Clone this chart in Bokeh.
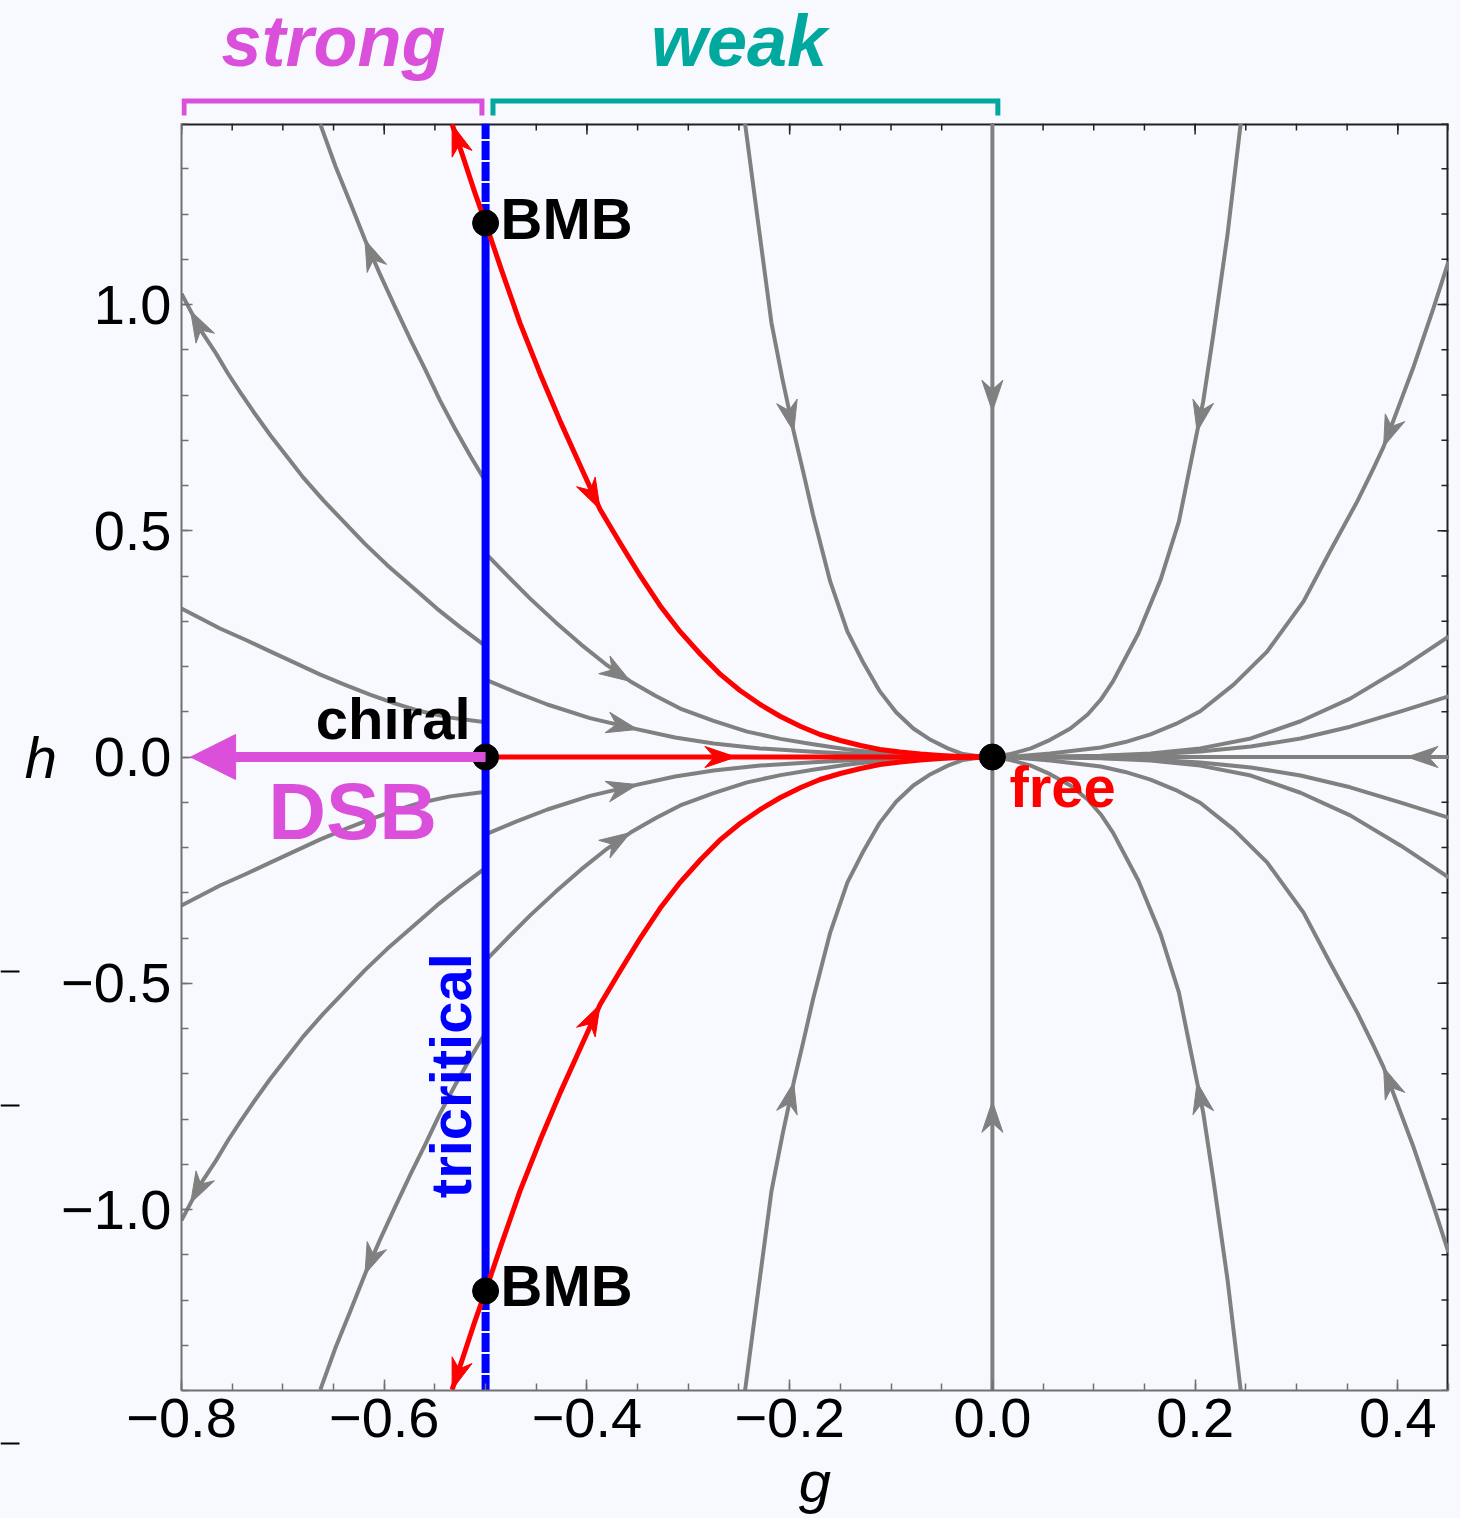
import numpy as np
from bokeh.plotting import figure
from bokeh.layouts import row, column
from bokeh.models import Range1d, FixedTicker, Arrow, NormalHead
from bokeh.core.properties import value
from bokeh.embed import file_html
from bokeh.resources import INLINE

# ---------------- styles ----------------
BG = "#F7F9FE"
GRAY = "#808080"
RED = "#FF0000"
BLUE = "#0000FF"
MAGENTA = "#DA50DA"
TEAL = "#00A89E"
FONT = "Liberation Sans"

# ---------------- axes data ----------------
g_range = (-0.8, 0.45)
h_range = (-1.4, 1.4)
x_ticks = [-0.8, -0.6, -0.4, -0.2, 0.0, 0.2, 0.4]
x_tick_labels = ["\u22120.8", "\u22120.6", "\u22120.4", "\u22120.2", "0.0", "0.2", "0.4"]
y_ticks = [-1.0, -0.5, 0.0, 0.5, 1.0]
y_tick_labels = ["\u22121.0", "\u22120.5", "0.0", "0.5", "1.0"]

# ---------------- fixed points ----------------
fp_names = ["chiral", "free", "BMB", "BMB"]
fp_g = [-0.5, 0.0, -0.5, -0.5]
fp_h = [0.0, 0.0, 1.18, -1.18]
tricritical_g = -0.5
bmb_h = 1.18

# ---------------- regimes ----------------
regime_names = ["strong", "weak"]
regime_g0 = [-0.8, -0.5]
regime_g1 = [-0.5, 0.0]
regime_colors = [MAGENTA, TEAL]

# DSB arrow (from chiral point toward strong coupling)
dsb_g = [-0.5, -0.791]
dsb_h = [0.0, 0.0]

# ---------------- flow lines (points ordered along the flow) ----------------
flowA_g = [-0.500, -0.515, -0.530, -0.545, -0.559, -0.574, -0.589, -0.604, -0.619, -0.633, -0.648, -0.663]
flowA_up_h = [0.609, 0.665, 0.725, 0.788, 0.854, 0.922, 0.993, 1.066, 1.143, 1.222, 1.305, 1.398]
flowA_dn_h = [-0.609, -0.665, -0.725, -0.788, -0.854, -0.922, -0.993, -1.066, -1.143, -1.222, -1.305, -1.398]

flowB_g = [-0.500, -0.525, -0.548, -0.574, -0.597, -0.619, -0.640, -0.660, -0.680, -0.696, -0.712,
           -0.729, -0.742, -0.754, -0.766, -0.779, -0.791, -0.800]
flowB_up_h = [0.245, 0.287, 0.328, 0.379, 0.424, 0.471, 0.520, 0.567, 0.618, 0.664, 0.710,
              0.763, 0.806, 0.847, 0.892, 0.936, 0.986, 1.024]
flowB_dn_h = [-0.245, -0.287, -0.328, -0.379, -0.424, -0.471, -0.520, -0.567, -0.618, -0.664, -0.710,
              -0.763, -0.806, -0.847, -0.892, -0.936, -0.986, -1.024]

flowC_g = [-0.500, -0.535, -0.564, -0.589, -0.614, -0.638, -0.663, -0.688, -0.712, -0.737, -0.762, -0.781, -0.800]
flowC_up_h = [0.077, 0.087, 0.101, 0.118, 0.138, 0.159, 0.182, 0.208, 0.233, 0.259, 0.284, 0.306, 0.328]
flowC_dn_h = [-0.077, -0.087, -0.101, -0.118, -0.138, -0.159, -0.182, -0.208, -0.233, -0.259, -0.284, -0.306, -0.328]

flowD_g = [-0.500, -0.480, -0.456, -0.431, -0.406, -0.382, -0.357, -0.332, -0.308, -0.275,
           -0.242, -0.209, -0.177, -0.144, -0.111, -0.081, -0.051, -0.022, 0.0]
flowD_up_h = [0.450, 0.404, 0.350, 0.298, 0.249, 0.206, 0.167, 0.135, 0.107, 0.080,
              0.056, 0.040, 0.028, 0.017, 0.009, 0.0044, 0.0015, 0.0004, 0.0]
flowD_dn_h = [-0.450, -0.404, -0.350, -0.298, -0.249, -0.206, -0.167, -0.135, -0.107, -0.080,
              -0.056, -0.040, -0.028, -0.017, -0.009, -0.0044, -0.0015, -0.0004, 0.0]

flowE_g = [-0.500, -0.470, -0.439, -0.397, -0.350, -0.313, -0.275, -0.229, -0.177, -0.130, -0.091, -0.046, 0.0]
flowE_up_h = [0.171, 0.143, 0.116, 0.086, 0.061, 0.043, 0.030, 0.019, 0.0115, 0.0062, 0.0029, 0.0007, 0.0]
flowE_dn_h = [-0.171, -0.143, -0.116, -0.086, -0.061, -0.043, -0.030, -0.019, -0.0115, -0.0062, -0.0029, -0.0007, 0.0]

flowF_g = [-0.244, -0.231, -0.218, -0.207, -0.196, -0.186, -0.177, -0.160, -0.143, -0.127, -0.111,
           -0.095, -0.078, -0.061, -0.044, -0.029, -0.012, 0.0]
flowF_up_h = [1.40, 1.179, 0.960, 0.834, 0.719, 0.624, 0.536, 0.388, 0.277, 0.207, 0.145,
              0.099, 0.063, 0.038, 0.019, 0.0066, 0.0011, 0.0]
flowF_dn_h = [-1.40, -1.179, -0.960, -0.834, -0.719, -0.624, -0.536, -0.388, -0.277, -0.207, -0.145,
              -0.099, -0.063, -0.038, -0.019, -0.0066, -0.0011, 0.0]

flowG_g = [0.0, 0.0, 0.0]
flowG_up_h = [1.40, 0.764, 0.0]
flowG_dn_h = [-1.40, -0.761, 0.0]

flowH_g = [0.245, 0.232, 0.218, 0.208, 0.202, 0.195, 0.184, 0.166, 0.144, 0.119, 0.107, 0.094,
           0.077, 0.057, 0.038, 0.018, 0.0]
flowH_up_h = [1.40, 1.155, 0.934, 0.786, 0.719, 0.642, 0.520, 0.392, 0.273, 0.167, 0.127, 0.094,
              0.063, 0.038, 0.019, 0.0066, 0.0]
flowH_dn_h = [-1.40, -1.155, -0.934, -0.786, -0.719, -0.642, -0.520, -0.392, -0.273, -0.167, -0.127, -0.094,
              -0.063, -0.038, -0.019, -0.0066, 0.0]

flowI_g = [0.450, 0.435, 0.415, 0.386, 0.376, 0.360, 0.333, 0.307, 0.271, 0.238, 0.205, 0.181,
           0.156, 0.131, 0.107, 0.057, 0.028, 0.0]
flowI_up_h = [1.095, 0.991, 0.859, 0.686, 0.638, 0.565, 0.454, 0.344, 0.233, 0.160, 0.101, 0.073,
              0.050, 0.033, 0.021, 0.0077, 0.0022, 0.0]
flowI_dn_h = [-1.095, -0.991, -0.859, -0.686, -0.638, -0.565, -0.454, -0.344, -0.233, -0.160, -0.101, -0.073,
              -0.050, -0.033, -0.021, -0.0077, -0.0022, 0.0]

flowJ_g = [0.450, 0.403, 0.353, 0.304, 0.255, 0.205, 0.156, 0.107, 0.057, 0.0]
flowJ_up_h = [0.266, 0.196, 0.129, 0.079, 0.041, 0.019, 0.0077, 0.0027, 0.0007, 0.0]
flowJ_dn_h = [-0.266, -0.196, -0.129, -0.079, -0.041, -0.019, -0.0077, -0.0027, -0.0007, 0.0]

flowK_g = [0.450, 0.403, 0.353, 0.304, 0.255, 0.205, 0.156, 0.107, 0.057, 0.0]
flowK_up_h = [0.134, 0.101, 0.067, 0.041, 0.023, 0.012, 0.0055, 0.0022, 0.0007, 0.0]
flowK_dn_h = [-0.134, -0.101, -0.067, -0.041, -0.023, -0.012, -0.0055, -0.0022, -0.0007, 0.0]

flowL_g = [0.45, 0.409, 0.0]
flowL_h = [0.0, 0.0, 0.0]

# red separatrices
sepBMB_g = [-0.500, -0.485, -0.466, -0.446, -0.426, -0.406, -0.387, -0.367, -0.347, -0.328, -0.308,
            -0.288, -0.268, -0.249, -0.229, -0.209, -0.189, -0.170, -0.150, -0.130, -0.111,
            -0.091, -0.071, -0.051, -0.032, 0.0]
sepBMB_up_h = [1.18, 1.081, 0.959, 0.846, 0.740, 0.641, 0.547, 0.472, 0.399, 0.335, 0.277,
               0.227, 0.182, 0.147, 0.116, 0.0895, 0.0674, 0.0497, 0.0365, 0.0254, 0.0166,
               0.011, 0.0066, 0.0033, 0.0011, 0.0]
sepBMB_dn_h = [-1.18, -1.081, -0.959, -0.846, -0.740, -0.641, -0.547, -0.472, -0.399, -0.335, -0.277,
               -0.227, -0.182, -0.147, -0.116, -0.0895, -0.0674, -0.0497, -0.0365, -0.0254, -0.0166,
               -0.011, -0.0066, -0.0033, -0.0011, 0.0]

sepOut_g = [-0.500, -0.511, -0.522, -0.533]
sepOut_up_h = [1.18, 1.250, 1.325, 1.398]
sepOut_dn_h = [-1.18, -1.250, -1.325, -1.398]

sepChiral_g = [-0.5, -0.253, 0.0]
sepChiral_h = [0.0, 0.0, 0.0]

# stray tick marks at the far left edge of the picture
stray_h = [-0.474, -0.770, -1.517]

# (g, h, arrow indices)
gray_curves = [
    (flowA_g, flowA_up_h, [8]), (flowA_g, flowA_dn_h, [8]),
    (flowB_g, flowB_up_h, [16]), (flowB_g, flowB_dn_h, [16]),
    (flowC_g, flowC_up_h, []), (flowC_g, flowC_dn_h, []),
    (flowD_g, flowD_up_h, [6]), (flowD_g, flowD_dn_h, [6]),
    (flowE_g, flowE_up_h, [4]), (flowE_g, flowE_dn_h, [4]),
    (flowF_g, flowF_up_h, [4]), (flowF_g, flowF_dn_h, [4]),
    (flowG_g, flowG_up_h, [1]), (flowG_g, flowG_dn_h, [1]),
    (flowH_g, flowH_up_h, [4]), (flowH_g, flowH_dn_h, [4]),
    (flowI_g, flowI_up_h, [3]), (flowI_g, flowI_dn_h, [3]),
    (flowJ_g, flowJ_up_h, []), (flowJ_g, flowJ_dn_h, []),
    (flowK_g, flowK_up_h, []), (flowK_g, flowK_dn_h, []),
    (flowL_g, flowL_h, [1]),
]
red_curves = [
    (sepBMB_g, sepBMB_up_h, [6]), (sepBMB_g, sepBMB_dn_h, [6]),
    (sepOut_g, sepOut_up_h, [3]), (sepOut_g, sepOut_dn_h, [3]),
    (sepChiral_g, sepChiral_h, [1]),
]

# ---------------- geometry ----------------
FW = FH = 1267
SX = FW / (g_range[1] - g_range[0])      # px per unit of g
SY = FH / (h_range[1] - h_range[0])      # px per unit of h
TOP_H = 123                               # height of strip above the frame
STRIP_W = 20
LEFT = 181 - STRIP_W
h_top = h_range[1] + TOP_H / SY


def fig(**kw):
    f = figure(output_backend="svg", toolbar_location=None, background_fill_color=BG,
               border_fill_color=BG, outline_line_color=None, **kw)
    f.grid.visible = False
    return f


# ---------------- main plot ----------------
p = fig(frame_width=FW, frame_height=FH, x_range=Range1d(*g_range), y_range=Range1d(*h_range),
        min_border_left=LEFT, min_border_top=0, min_border_right=2, min_border_bottom=0)

x_minor = [round(v, 2) for v in np.arange(-0.8, 0.4501, 0.05)]
y_minor = [round(v, 2) for v in np.arange(-1.4, 1.4001, 0.1)]

for ax in (p.xaxis[0], p.yaxis[0]):
    ax.axis_line_color = "#707070"
    ax.axis_line_width = 2
    ax.major_tick_line_color = "#707070"
    ax.minor_tick_line_color = "#707070"
    ax.major_tick_line_width = 1.5
    ax.minor_tick_line_width = 1.5
    ax.major_tick_in = 11
    ax.major_tick_out = 0
    ax.minor_tick_in = 7
    ax.minor_tick_out = 0
    ax.major_label_text_font = FONT
    ax.major_label_text_font_size = "56px"
    ax.major_label_text_color = "black"
    ax.axis_label_text_font = FONT
    ax.axis_label_text_font_size = "58px"
    ax.axis_label_text_font_style = "italic"
    ax.axis_label_text_color = "black"

p.xaxis.ticker = FixedTicker(ticks=x_ticks, minor_ticks=x_minor)
p.yaxis.ticker = FixedTicker(ticks=y_ticks, minor_ticks=y_minor)
p.xaxis.major_label_overrides = dict(zip(x_ticks, x_tick_labels))
p.yaxis.major_label_overrides = dict(zip(y_ticks, y_tick_labels))
p.xaxis.major_label_standoff = 8
p.yaxis.major_label_standoff = 10
p.xaxis.axis_label = "g"
p.xaxis.axis_label_standoff = 9
p.yaxis.axis_label = "h"
p.yaxis.axis_label_standoff = 1
if "axis_label_orientation" in p.yaxis[0].properties():
    p.yaxis.axis_label_orientation = "horizontal"

# top and right frame edges with inward ticks
p.line([g_range[0], g_range[1]], [h_range[1], h_range[1]], line_color="#222222", line_width=4)
p.line([g_range[1], g_range[1]], [h_range[0], h_range[1]], line_color="#222222", line_width=4)
for ticks, L in ((x_ticks, 11), (x_minor, 7)):
    p.segment(x0=ticks, y0=[h_range[1]] * len(ticks), x1=ticks,
              y1=[h_range[1] - L / SY] * len(ticks), line_color="#222222", line_width=1.5)
for ticks, L in ((y_ticks, 11), (y_minor, 7)):
    p.segment(x0=[g_range[1]] * len(ticks), y0=ticks, x1=[g_range[1] - L / SX] * len(ticks),
              y1=ticks, line_color="#222222", line_width=1.5)

# ---------------- flow lines ----------------
p.multi_line(xs=[c[0] for c in gray_curves], ys=[c[1] for c in gray_curves],
             line_color=GRAY, line_width=4, line_join="round")

# tricritical line: solid between the BMB points, dashed beyond
p.line([tricritical_g, tricritical_g], [-bmb_h, bmb_h], line_color=BLUE, line_width=8)
p.multi_line(xs=[[tricritical_g, tricritical_g], [tricritical_g, tricritical_g]],
             ys=[[bmb_h, h_range[1]], [-bmb_h, h_range[0]]],
             line_color=BLUE, line_width=8, line_dash="19 2")

p.multi_line(xs=[c[0] for c in red_curves], ys=[c[1] for c in red_curves],
             line_color=RED, line_width=5, line_join="round")


# ---------------- arrow heads ----------------
def head(gs, hs, i, L=31.0, W=10.5, notch=0.7):
    j0 = max(i - 1, 0)
    j1 = min(i + 1, len(gs) - 1)
    dx = (gs[j1] - gs[j0]) * SX
    dy = (hs[j1] - hs[j0]) * SY
    n = (dx * dx + dy * dy) ** 0.5
    ux, uy = dx / n, dy / n
    px, py = -uy, ux
    tx, ty = gs[i] * SX, hs[i] * SY
    pts = [(tx, ty),
           (tx - L * ux + W * px, ty - L * uy + W * py),
           (tx - notch * L * ux, ty - notch * L * uy),
           (tx - L * ux - W * px, ty - L * uy - W * py)]
    return [q[0] / SX for q in pts], [q[1] / SY for q in pts]


hx, hy, hc = [], [], []
for curves, col in ((gray_curves, GRAY), (red_curves, RED)):
    for gs, hs, idx in curves:
        for i in idx:
            a, b = head(gs, hs, i)
            hx.append(a)
            hy.append(b)
            hc.append(col)
p.patches(xs=hx, ys=hy, fill_color=hc, line_color=hc, line_width=1)

# DSB arrow
p.add_layout(Arrow(end=NormalHead(size=45, fill_color=MAGENTA, line_color=MAGENTA),
                   x_start=dsb_g[0], y_start=dsb_h[0], x_end=dsb_g[1], y_end=dsb_h[1],
                   line_color=MAGENTA, line_width=10))

# fixed points
p.scatter(fp_g, fp_h, size=26, fill_color="black", line_color="black")

# ---------------- texts ----------------
bold = dict(text_font=value(FONT), text_font_style="bold", text_baseline="middle")
p.text(x=[fp_g[2], fp_g[3]], y=[fp_h[2], fp_h[3]], text=[fp_names[2], fp_names[3]],
       text_font_size="58px", text_color="black", text_align="left",
       x_offset=15, y_offset=-5, **bold)
p.text(x=[fp_g[0]], y=[fp_h[0]], text=[fp_names[0]], text_font_size="58px",
       text_color="black", text_align="right", x_offset=-15, y_offset=-39, **bold)
p.text(x=[fp_g[1]], y=[fp_h[1]], text=[fp_names[1]], text_font_size="58px",
       text_color=RED, text_align="left", x_offset=17, y_offset=29, **bold)
p.text(x=[fp_g[0]], y=[fp_h[0]], text=["DSB"], text_font_size="80px",
       text_color=MAGENTA, text_align="center", x_offset=-133, y_offset=54, **bold)
p.text(x=[tricritical_g], y=[-0.975], text=["tricritical"], angle=np.pi / 2,
       text_font_size="58px", text_color=BLUE, text_align="left",
       x_offset=-35, **bold)

# ---------------- strip above the frame: regime brackets ----------------
top = fig(frame_width=FW, frame_height=TOP_H, x_range=p.x_range,
          y_range=Range1d(h_range[1], h_top), x_axis_type=None, y_axis_type=None,
          min_border=0, min_border_left=LEFT, min_border_right=2)
bracket_h, bracket_tick_h, regime_label_h = 1.4497, 1.4177, 1.583
pad_l = [0.0025, 0.0073]
pad_r = [-0.0036, 0.0054]
for name, g0, g1, col, pl, pr in zip(regime_names, regime_g0, regime_g1, regime_colors, pad_l, pad_r):
    a0, a1 = g0 + pl, g1 + pr
    top.line([a0, a0, a1, a1], [bracket_tick_h, bracket_h, bracket_h, bracket_tick_h],
             line_color=col, line_width=5, line_join="miter")
    top.text(x=[(g0 + g1) / 2], y=[regime_label_h], text=[name], text_align="center",
             text_baseline="middle", text_font=value(FONT), text_font_size="72px",
             text_font_style="bold italic", text_color=col)

# ---------------- strip at the far left edge ----------------
strip = fig(frame_width=STRIP_W, frame_height=1500, x_range=Range1d(0, 1),
            y_range=Range1d(h_top - 1500 / SY, h_top), x_axis_type=None, y_axis_type=None,
            min_border=0)
strip.segment(x0=[0.0] * len(stray_h), y0=stray_h, x1=[0.95] * len(stray_h), y1=stray_h,
              line_color="black", line_width=2)

layout = row(strip, column(top, p))

html = file_html(layout, INLINE)
html = html.replace("<body>", '<body style="background-color:%s;">' % BG)
open("out.html", "w").write(html)
